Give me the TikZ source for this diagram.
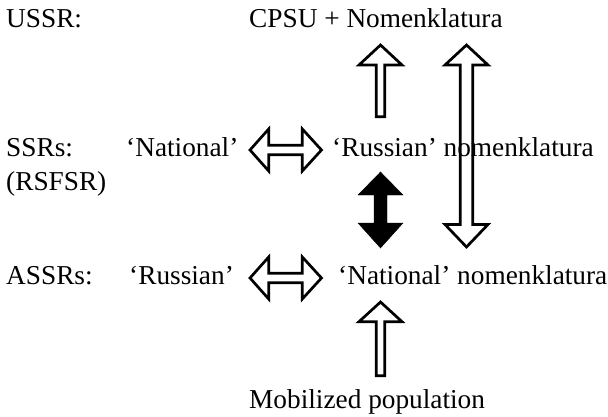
\documentclass[tikz,border=0pt]{standalone}
\usepackage{fontspec}
\setmainfont{Liberation Serif}
\begin{document}
\begin{tikzpicture}[x=1pt,y=-1pt,
  lbl/.style={anchor=base west, inner sep=0pt, font=\fontsize{27.3}{32}\selectfont},
  blk/.style={draw=black, line width=2.7pt, fill=white, line join=miter, miter limit=10},
  blkfill/.style={fill=black, draw=black, line width=0.4pt, line join=miter}]
\useasboundingbox (0,0) rectangle (608,417);

% block arrows
\draw[blk] (380.5,45) -- (402,65) -- (384.7,65) -- (384.7,116.7) -- (376.3,116.7) -- (376.3,65) -- (359,65) -- cycle;
\draw[blk] (466.5,45) -- (488,65) -- (472.7,65) -- (472.7,224.5) -- (488,224.5) -- (466.5,247) -- (445,224.5) -- (460.3,224.5) -- (460.3,65) -- (445,65) -- cycle;
\draw[blkfill] (380.5,172) -- (403,195) -- (387,195) -- (387,223) -- (403,223) -- (380.5,248) -- (358,223) -- (374,223) -- (374,195) -- (358,195) -- cycle;
\draw[blk] (380.5,302) -- (402,321.7) -- (384.7,321.7) -- (384.7,375.7) -- (376.3,375.7) -- (376.3,321.7) -- (359,321.7) -- cycle;
\draw[blk] (250,150) -- (268.7,129) -- (268.7,145.2) -- (302.3,145.2) -- (302.3,129) -- (321.5,150) -- (302.3,171) -- (302.3,154.8) -- (268.7,154.8) -- (268.7,171) -- cycle;
\draw[blk] (250,278) -- (268.7,257) -- (268.7,273.2) -- (302.3,273.2) -- (302.3,257) -- (321.5,278) -- (302.3,299) -- (302.3,282.8) -- (268.7,282.8) -- (268.7,299) -- cycle;

% labels
\node[lbl] (ussr) at (6,28) {USSR:};
\node[lbl] (cpsu) at (249,28) {CPSU + Nomenklatura};
\node[lbl] (ssrs) at (6,157) {SSRs:};
\node[lbl] (rsfsr) at (6,190) {(RSFSR)};
\node[lbl] (natl) at (126,157) {‘National’};
\node[lbl] (rusnom) at (332,157) {‘Russian’ nomenklatura};
\node[lbl] (assrs) at (6,284) {ASSRs:};
\node[lbl] (rus) at (129,284) {‘Russian’};
\node[lbl] (natnom) at (338,284) {‘National’ nomenklatura};
\node[lbl] (mob) at (249,408) {Mobilized population};
\end{tikzpicture}
\end{document}
